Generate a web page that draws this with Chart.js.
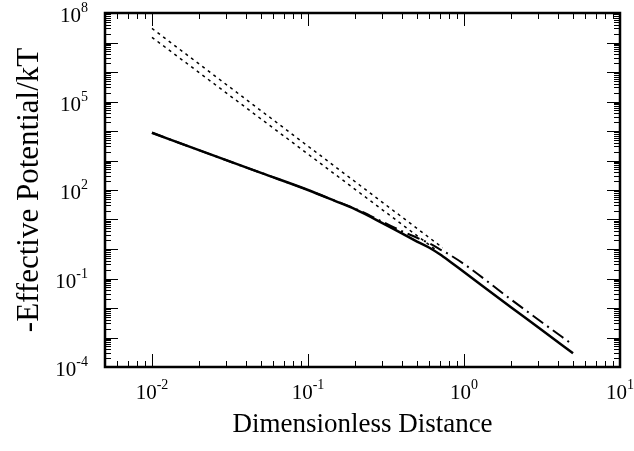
<!DOCTYPE html>
<html>
<head>
<meta charset="utf-8">
<script src="https://cdn.jsdelivr.net/npm/chart.js@4"></script>
<style>
  body { margin: 0; background: #fff; }
</style>
</head>
<body>
<canvas id="potChart" width="634" height="451"></canvas>
<script>
// values
const solidX = [0.01, 0.02, 0.05, 0.1, 0.15, 0.2, 0.3, 0.4, 0.5, 0.6, 0.7, 0.8, 1, 2, 3, 5];
const solidY = [8700, 2240, 380, 100, 42, 22.4, 7.6, 3.4, 1.78, 1.1, 0.66, 0.40, 0.166, 0.0107, 0.0022, 0.00029];

const dashDotX = [0.01, 0.02, 0.05, 0.1, 0.15, 0.2, 0.3, 0.4, 0.5, 0.6, 0.7, 0.8, 1, 2, 3, 5];
const dashDotY = [8700, 2240, 380, 100, 42.5, 23.5, 8.4, 4.0, 2.4, 1.55, 0.98, 0.66, 0.31, 0.0195, 0.0040, 0.00056];

const upperDotX = [0.01, 0.73];
const upperDotY = [3.0e7, 1.1];
const lowerDotX = [0.01, 0.65];
const lowerDotY = [1.5e7, 1.0];

const xTickExps = [-2, -1, 0, 1];
const yTickExps = [8, 5, 2, -1, -4];

const xTitle = "Dimensionless Distance";
const yTitle = "-Effective Potential/kT";

const toPts = (xs, ys) => xs.map((x, i) => ({ x: x, y: ys[i] }));

const serif = "'Liberation Serif', 'Times New Roman', serif";

// frame, inward ticks on all four sides, tick labels with superscripts, titles
const framePlugin = {
    id: "frame",
    afterDraw(chart) {
        const ctx = chart.ctx;
        const a = chart.chartArea;
        const xs = chart.scales.x;
        const ys = chart.scales.y;
        ctx.save();
        ctx.strokeStyle = "#000";

        // ticks
        ctx.lineWidth = 1;
        for (let e = -3; e <= 1; e++) {
            for (let m = 1; m <= 9; m++) {
                const v = m * Math.pow(10, e);
                if (v < xs.min || v > xs.max) continue;
                const px = Math.round(xs.getPixelForValue(v)) + 0.5;
                const len = m === 1 ? 13 : 6;
                ctx.beginPath();
                ctx.moveTo(px, a.bottom); ctx.lineTo(px, a.bottom - len);
                ctx.moveTo(px, a.top); ctx.lineTo(px, a.top + len);
                ctx.stroke();
            }
        }
        for (let e = -4; e <= 8; e++) {
            for (let m = 1; m <= 9; m++) {
                const v = m * Math.pow(10, e);
                if (v < ys.min || v > ys.max) continue;
                const py = Math.round(ys.getPixelForValue(v)) + 0.5;
                const len = m === 1 ? 13 : 6;
                ctx.beginPath();
                ctx.moveTo(a.left, py); ctx.lineTo(a.left + len, py);
                ctx.moveTo(a.right, py); ctx.lineTo(a.right - len, py);
                ctx.stroke();
            }
        }

        // frame
        ctx.lineWidth = 2.5;
        ctx.strokeRect(a.left, a.top, a.right - a.left, a.bottom - a.top);

        // tick labels
        ctx.fillStyle = "#000";
        ctx.textBaseline = "alphabetic";
        const baseFont = "21px " + serif;
        const expFont = "14px " + serif;
        xTickExps.forEach(e => {
            const px = xs.getPixelForValue(Math.pow(10, e));
            ctx.font = baseFont;
            const wb = ctx.measureText("10").width;
            ctx.font = expFont;
            const we = ctx.measureText(String(e)).width;
            const left = px - (wb + we) / 2;
            ctx.font = baseFont;
            ctx.textAlign = "left";
            ctx.fillText("10", left, a.bottom + 32);
            ctx.font = expFont;
            ctx.fillText(String(e), left + wb, a.bottom + 22);
        });
        yTickExps.forEach(e => {
            const py = ys.getPixelForValue(Math.pow(10, e));
            const right = a.left - 17;
            ctx.font = expFont;
            const we = ctx.measureText(String(e)).width;
            ctx.textAlign = "right";
            ctx.fillText(String(e), right, py - 1);
            ctx.font = baseFont;
            ctx.fillText("10", right - we, py + 9);
        });

        // axis titles
        ctx.textAlign = "center";
        ctx.textBaseline = "middle";
        ctx.font = "27px " + serif;
        ctx.fillText(xTitle, (a.left + a.right) / 2, 425);
        ctx.font = "31px " + serif;
        ctx.translate(30, (a.top + a.bottom) / 2);
        ctx.rotate(-Math.PI / 2);
        ctx.fillText(yTitle, 0, 0);
        ctx.restore();
    }
};

const ctx = document.getElementById("potChart").getContext("2d");

const potChart = new Chart(ctx, {
    type: "line",
    data: {
        datasets: [
            {
                label: "upper asymptote",
                data: toPts(upperDotX, upperDotY),
                borderColor: "#000",
                borderWidth: 1.5,
                borderDash: [3, 4],
                pointRadius: 0,
            },
            {
                label: "lower asymptote",
                data: toPts(lowerDotX, lowerDotY),
                borderColor: "#000",
                borderWidth: 1.5,
                borderDash: [3, 4],
                pointRadius: 0,
            },
            {
                label: "dash-dot",
                data: toPts(dashDotX, dashDotY),
                borderColor: "#000",
                borderWidth: 2,
                borderDash: [13, 5, 2, 5],
                pointRadius: 0,
                cubicInterpolationMode: "monotone",
            },
            {
                label: "solid",
                data: toPts(solidX, solidY),
                borderColor: "#000",
                borderWidth: 2.5,
                pointRadius: 0,
                cubicInterpolationMode: "monotone",
            }
        ]
    },
    options: {
        responsive: false,
        animation: false,
        layout: { padding: { left: 105, right: 14, top: 13, bottom: 84 } },
        scales: {
            x: { type: "logarithmic", min: 0.005, max: 10, display: false },
            y: { type: "logarithmic", min: 1e-4, max: 1e8, display: false }
        },
        plugins: {
            legend: { display: false },
            tooltip: { enabled: false }
        }
    },
    plugins: [framePlugin],
});
</script>
</body>
</html>
